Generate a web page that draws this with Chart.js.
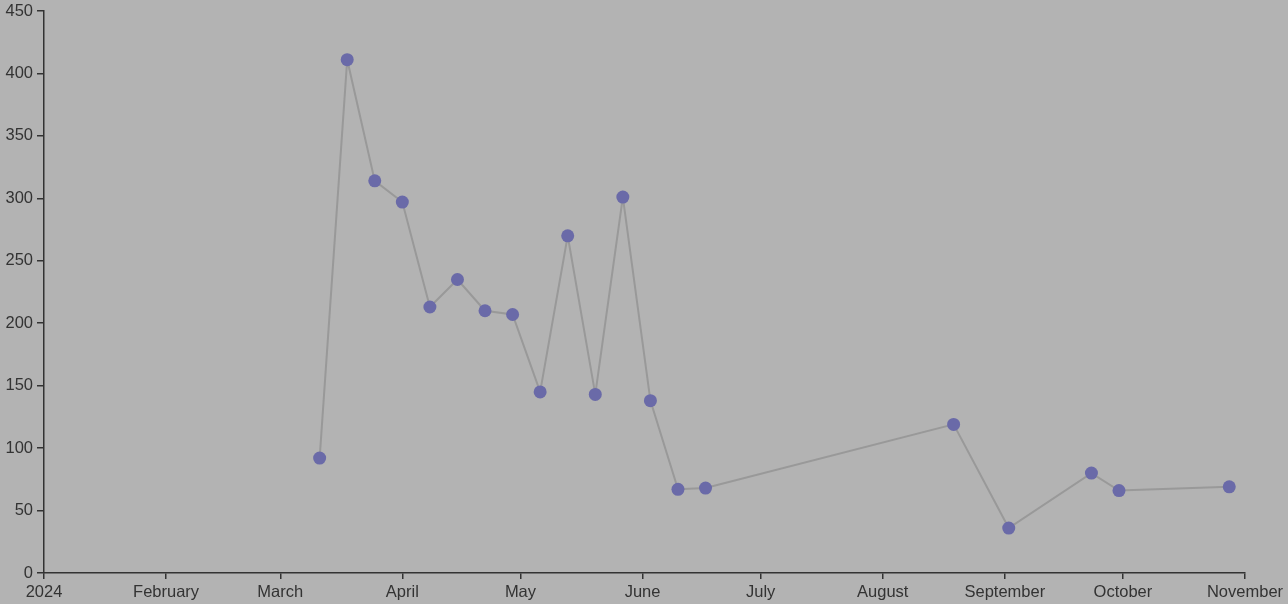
<!DOCTYPE html>
<html>
<head>
<meta charset="utf-8">
<script src="https://cdn.jsdelivr.net/npm/chart.js@4"></script>
<style>
  html, body { margin:0; padding:0; background:#b3b3b3; }
  #wrap { width:1288px; height:604px; position:relative; }
</style>
</head>
<body>
<div id="wrap"><canvas id="chart"></canvas></div>
<script>
// weekly readings (date, value)
const dates = ["2024-03-11","2024-03-18","2024-03-25","2024-04-01","2024-04-08","2024-04-15","2024-04-22","2024-04-29",
  "2024-05-06","2024-05-13","2024-05-20","2024-05-27","2024-06-03","2024-06-10","2024-06-17",
  "2024-08-19","2024-09-02","2024-09-23","2024-09-30","2024-10-28"];
const values = [92, 411, 314, 297, 213, 235, 210, 207, 145, 270, 143, 301, 138, 67, 68, 119, 36, 80, 66, 69];
const monthStarts = ["2024-01-01","2024-02-01","2024-03-01","2024-04-01","2024-05-01","2024-06-01",
  "2024-07-01","2024-08-01","2024-09-01","2024-10-01","2024-11-01"];
const monthLabels = ["2024","February","March","April","May","June","July","August","September","October","November"];
const yTicks = [0, 50, 100, 150, 200, 250, 300, 350, 400, 450];

// days since Jan 1
function dayNum(s){ return (Date.parse(s + "T00:00:00Z") - Date.UTC(2024,0,1)) / 86400000; }

const points = dates.map(function(d, i){ return { x: dayNum(d), y: values[i] }; });
const monthDays = monthStarts.map(dayNum);

const axisColor = "#333333";
const font = { family: "'Liberation Sans', Arial, Helvetica, sans-serif", size: 16.5 };

new Chart(document.getElementById("chart"), {
  type: "line",
  data: {
    datasets: [{
      data: points,
      borderColor: "#999999",
      borderWidth: 2,
      pointBackgroundColor: "#6a6aa8",
      pointBorderWidth: 0,
      pointRadius: 6.5,
      tension: 0,
      fill: false
    }]
  },
  options: {
    responsive: true,
    maintainAspectRatio: false,
    animation: false,
    layout: { padding: { top: 11, right: 43, left: 0, bottom: 0 } },
    plugins: { legend: { display: false }, tooltip: { enabled: false } },
    scales: {
      x: {
        type: "linear",
        min: monthDays[0],
        max: monthDays[monthDays.length - 1],
        afterBuildTicks: function(s){ s.ticks = monthDays.map(function(v){ return { value: v }; }); },
        afterFit: function(s){ s.height = 31; s.paddingLeft = 0; s.paddingRight = 0; },
        ticks: {
          color: axisColor, font: font, padding: 4, maxRotation: 0, autoSkip: false,
          callback: function(v){ const i = monthDays.indexOf(v); return i >= 0 ? monthLabels[i] : ""; }
        },
        grid: { drawOnChartArea: false, tickLength: 6, color: axisColor, lineWidth: 1.5 },
        border: { color: axisColor, width: 1.5 }
      },
      y: {
        min: 0,
        max: 450,
        afterBuildTicks: function(s){ s.ticks = yTicks.map(function(v){ return { value: v }; }); },
        afterFit: function(s){ s.width = 44; s.paddingTop = 0; s.paddingBottom = 0; },
        ticks: { color: axisColor, font: font, padding: 4 },
        grid: { drawOnChartArea: false, tickLength: 7, color: axisColor, lineWidth: 1.5 },
        border: { color: axisColor, width: 1.5 }
      }
    }
  }
});
</script>
</body>
</html>
